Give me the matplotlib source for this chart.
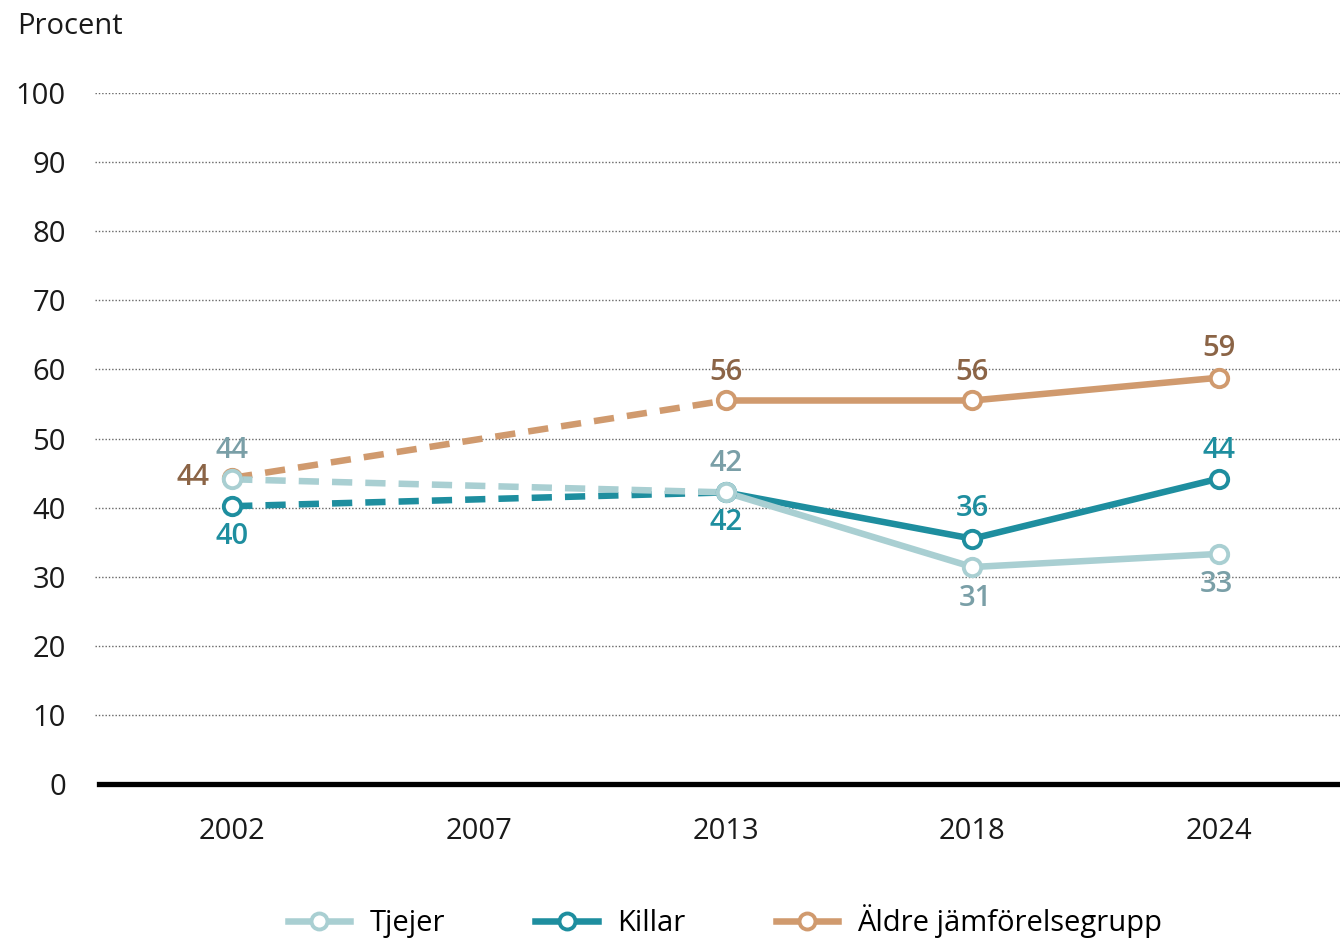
import matplotlib
matplotlib.use('Agg')
import matplotlib.pyplot as plt
import numpy as np

plt.rcParams['font.family'] = ['Open Sans', 'DejaVu Sans']

# data
years = ['2002', '2007', '2013', '2018', '2024']
data_years = [0, 2, 3, 4]  # index in years, 2007 saknar värde
tjejer = [44.1, 42.2, 31.4, 33.3]
killar = [40.2, 42.2, 35.5, 44.2]
aldre = [44.3, 55.5, 55.5, 58.8]
tjejer_lab = ['44', '42', '31', '33']
killar_lab = ['40', '42', '36', '44']
aldre_lab = ['44', '56', '56', '59']
series_names = ['Tjejer', 'Killar', 'Äldre jämförelsegrupp']

col_tj, lab_tj = '#a9cfd2', '#7a9fa7'
col_ki, lab_ki = '#1e8e9f', '#1e8e9f'
col_al, lab_al = '#d09a6e', '#8b6446'

fig = plt.figure(figsize=(13.4, 9.4), dpi=100)
ax = fig.add_axes([95 / 1340, 1 - 784 / 940, 1 - 95 / 1340, (784 - 93) / 940])

fs = 21
lw = 4.7
x = np.array(data_years)
mk = dict(marker='o', ms=12.5, mew=2.8, mfc='white', clip_on=False)

# ordning: äldre, killar, tjejer (tjejer ovanpå)
for vals, col, z in [(aldre, col_al, 3), (killar, col_ki, 4), (tjejer, col_tj, 5)]:
    # streckad linje 2002 -> 2013
    ax.plot(x[:2], vals[:2], color=col, lw=lw, ls=(0, (3.1, 2.0)),
            dash_capstyle='butt', zorder=z)
    # heldragen 2013 -> 2024
    ax.plot(x[1:], vals[1:], color=col, lw=lw, solid_capstyle='round', zorder=z)
    ax.plot(x, vals, ls='none', mec=col, zorder=z + 3, **mk)

# etiketter
def lab(xi, v, s, col, dx, dy):
    ax.annotate(s, (xi, v), xytext=(dx, dy), textcoords='offset points',
                ha='center', va='center', fontsize=fs, color=col,
                fontweight='semibold', zorder=10)

tj_off = [(0, 21), (0, 21), (2, -23), (-2, -22)]
ki_off = [(0, -22), (0, -22), (0, 22), (0, 20)]
al_off = [(-28, 0), (0, 20), (0, 20), (0, 21)]
for i in range(4):
    lab(x[i], tjejer[i], tjejer_lab[i], lab_tj, *tj_off[i])
    lab(x[i], killar[i], killar_lab[i], lab_ki, *ki_off[i])
    lab(x[i], aldre[i], aldre_lab[i], lab_al, *al_off[i])

ax.set_ylim(0, 100)
ax.set_xlim(-0.556, 4.49)
ax.set_yticks(range(0, 101, 10))
ax.set_xticks(range(len(years)))
ax.set_xticklabels(years)
ax.tick_params(axis='both', length=0, labelsize=fs, colors='#1a1a1a')
ax.tick_params(axis='x', pad=24)
ax.tick_params(axis='y', pad=21)
for s in ax.spines.values():
    s.set_visible(False)

for yv in range(10, 101, 10):
    ax.axhline(yv, color='#666666', lw=1.0, ls=(0, (1, 1.4)), zorder=1)
ax.axhline(0, xmin=0.003, color='black', lw=3.8, zorder=2, clip_on=False)

fig.text(17 / 1340, 1 - 26 / 940, 'Procent', fontsize=fs, va='center', ha='left',
         color='#1a1a1a')

# legend
handles = []
for col in [col_tj, col_ki, col_al]:
    h, = ax.plot([], [], color=col, lw=lw, marker='o', ms=11.5, mew=2.8, mfc='white', mec=col)
    handles.append(h)
fig.legend(handles, series_names, loc='center', bbox_to_anchor=(725 / 1340, 1 - 921 / 940),
           ncol=3, frameon=False, fontsize=fs, handlelength=2.15, handletextpad=0.65,
           columnspacing=3.1)

fig.savefig('out.png', dpi=100)
